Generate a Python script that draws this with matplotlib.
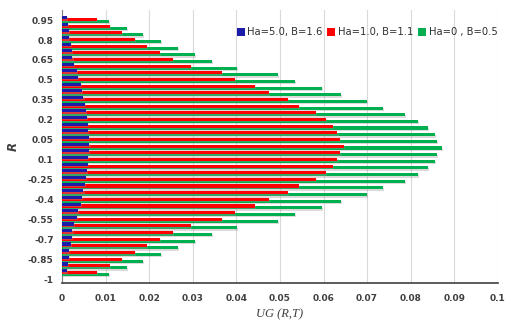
import numpy as np
import matplotlib
matplotlib.use("Agg")
import matplotlib.pyplot as plt
import matplotlib.patheffects as pe

# radial position R, from -1 (bottom) to 1 (top)
r_values = [
    -1.0, -0.95, -0.9, -0.85, -0.8, -0.75, -0.7, -0.65, -0.6, -0.55, -0.5,
    -0.45, -0.4, -0.35, -0.3, -0.25, -0.2, -0.15, -0.1, -0.05, 0.0,
    0.05, 0.1, 0.15, 0.2, 0.25, 0.3, 0.35, 0.4, 0.45, 0.5,
    0.55, 0.6, 0.65, 0.7, 0.75, 0.8, 0.85, 0.9, 0.95, 1.0,
]

ug_ha5 = [
    0.0, 0.0011, 0.0013, 0.0015, 0.0016, 0.0020, 0.0022, 0.0024, 0.0028, 0.0035, 0.0037,
    0.0044, 0.0046, 0.0049, 0.0052, 0.0054, 0.0058, 0.0059, 0.0060, 0.0061, 0.0063,
    0.0061, 0.0060, 0.0059, 0.0058, 0.0054, 0.0052, 0.0049, 0.0046, 0.0044, 0.0037,
    0.0035, 0.0028, 0.0024, 0.0022, 0.0020, 0.0016, 0.0015, 0.0013, 0.0011, 0.0,
]
ug_ha1 = [
    0.0, 0.0080, 0.0110, 0.0138, 0.0167, 0.0195, 0.0225, 0.0254, 0.0295, 0.0366, 0.0397,
    0.0443, 0.0475, 0.0518, 0.0544, 0.0583, 0.0605, 0.0622, 0.0632, 0.0638, 0.0647,
    0.0638, 0.0632, 0.0622, 0.0605, 0.0583, 0.0544, 0.0518, 0.0475, 0.0443, 0.0397,
    0.0366, 0.0295, 0.0254, 0.0225, 0.0195, 0.0167, 0.0138, 0.0110, 0.0080, 0.0,
]
ug_ha0 = [
    0.0, 0.0108, 0.0148, 0.0186, 0.0226, 0.0265, 0.0304, 0.0343, 0.0401, 0.0496, 0.0534,
    0.0597, 0.0640, 0.0699, 0.0737, 0.0787, 0.0817, 0.0840, 0.0856, 0.0861, 0.0872,
    0.0861, 0.0856, 0.0840, 0.0817, 0.0787, 0.0737, 0.0699, 0.0640, 0.0597, 0.0534,
    0.0496, 0.0401, 0.0343, 0.0304, 0.0265, 0.0226, 0.0186, 0.0148, 0.0108, 0.0,
]

series_labels = ["Ha=5.0, B=1.6", "Ha=1.0, B=1.1", "Ha=0 , B=0.5"]
y_tick_labels = ["-1", "-0.85", "-0.7", "-0.55", "-0.4", "-0.25", "0.1",
                 "0.05", "0.2", "0.35", "0.5", "0.65", "0.8", "0.95"]
x_ticks = [0, 0.01, 0.02, 0.03, 0.04, 0.05, 0.06, 0.07, 0.08, 0.09, 0.1]
x_tick_labels = ["0", "0.01", "0.02", "0.03", "0.04", "0.05", "0.06",
                 "0.07", "0.08", "0.09", "0.1"]

colors = ["#1c1ca8", "#ff0000", "#00b050"]

fig = plt.figure(figsize=(5.17, 3.24), dpi=100)
ax = fig.add_axes([0.12, 0.1265, 0.843, 0.8425])

pos = np.arange(len(r_values))
shadow = [pe.SimplePatchShadow(offset=(0.8, -1.0), shadow_rgbFace="#999999", alpha=0.35),
          pe.Normal()]

# green first so red and blue sit over it
bars = {}
for vals, off, c, lab in [
    (ug_ha0, -0.22, colors[2], series_labels[2]),
    (ug_ha1, 0.07, colors[1], series_labels[1]),
    (ug_ha5, 0.36, colors[0], series_labels[0]),
]:
    bars[lab] = ax.barh(pos + off, vals, height=0.46, color=c, label=lab,
                        path_effects=shadow, zorder=3)

ax.set_ylim(-0.5, len(r_values) - 0.5)
ax.set_xlim(0, 0.1)
ax.set_yticks(pos[::3])
ax.set_yticklabels(y_tick_labels)
ax.set_xticks(x_ticks)
ax.set_xticklabels(x_tick_labels)
ax.tick_params(axis="both", length=0, labelsize=6.5, colors="#404040")
for t in ax.get_yticklabels() + ax.get_xticklabels():
    t.set_fontweight("bold")
ax.tick_params(axis="x", pad=8)
ax.tick_params(axis="y", pad=6)

ax.grid(axis="x", color="#d9d9d9", linewidth=0.8, zorder=0)
ax.set_axisbelow(True)
for s in ["top", "right"]:
    ax.spines[s].set_visible(False)
ax.spines["left"].set_color("#808080")
ax.spines["bottom"].set_color("#404040")
ax.spines["bottom"].set_linewidth(1.2)

ax.set_xlabel("UG (R,T)", fontfamily="Liberation Serif", fontstyle="italic",
              fontsize=9, color="#404040", labelpad=4)
ax.set_ylabel("R", fontstyle="italic", fontweight="bold", fontsize=8.5,
              color="#404040", labelpad=6)

handles = [bars[l] for l in series_labels]
leg = ax.legend(handles, series_labels, loc="upper right", bbox_to_anchor=(1.02, 0.97),
                ncol=3, frameon=False, fontsize=7.2, handlelength=0.8, handleheight=0.8,
                handletextpad=0.25, columnspacing=0.5, labelcolor="#303030")
for h in leg.legend_handles:
    h.set_path_effects([])

fig.savefig("out.png", dpi=100)
